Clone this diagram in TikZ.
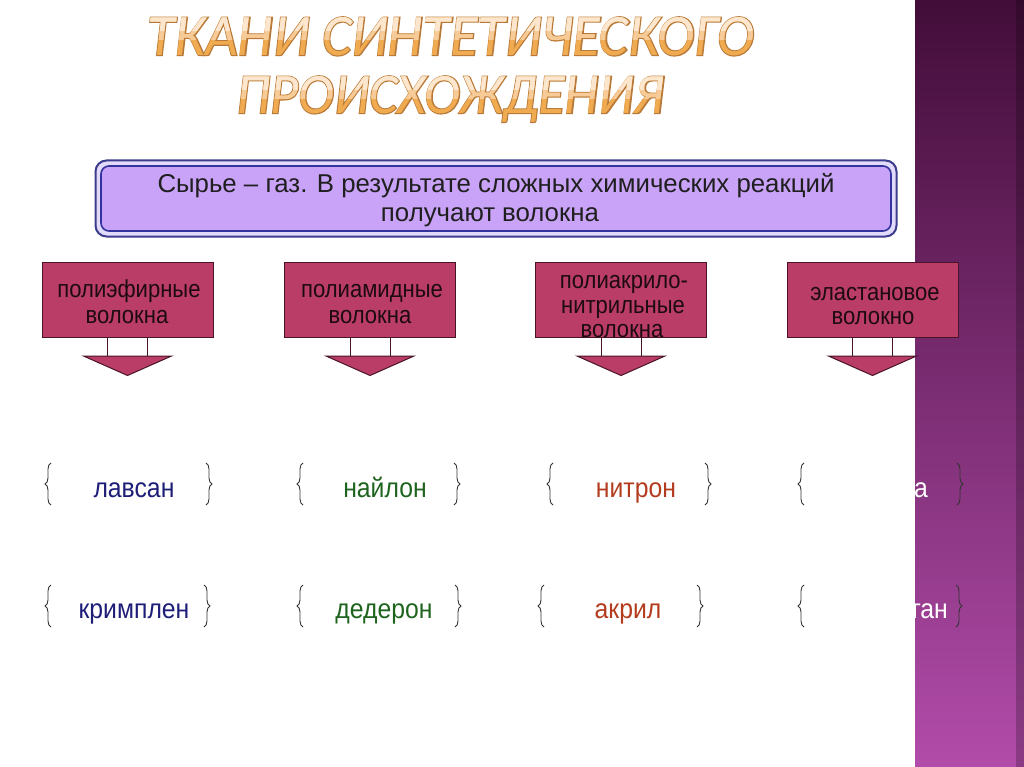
\documentclass[tikz,border=0pt]{standalone}
\usepackage{fontspec}
\setmainfont{Liberation Sans}
\newfontfamily\bodyfont[FakeStretch=0.9]{Liberation Sans}
\newfontfamily\titlefont{Carlito Italic}
\newfontfamily\titleoutlinefont{Carlito Italic}[FakeBold=3.5]
\usetikzlibrary{decorations.pathreplacing,calc}
\definecolor{calloutfill}{HTML}{B93D66}
\definecolor{calloutline}{HTML}{4A1428}
\definecolor{calloutink}{HTML}{1E0A12}
\definecolor{boxfill}{HTML}{C9A3F7}
\definecolor{boxline}{HTML}{3C3C8C}
\definecolor{boxgap}{HTML}{E2DAFA}
\definecolor{bandtop}{HTML}{420D39}
\definecolor{bandmid}{HTML}{8C2F7D}
\definecolor{bandbot}{HTML}{B24CAA}
\definecolor{navytext}{HTML}{1E1E78}
\definecolor{greentext}{HTML}{1E641E}
\definecolor{redtext}{HTML}{B43C1E}
\definecolor{titleorange}{HTML}{F0AA50}
\definecolor{titlepeach}{HTML}{F6CB98}
\definecolor{titlecream}{HTML}{FCE6CE}
\definecolor{titleline}{HTML}{B87A3A}
\definecolor{bracecol}{HTML}{333333}
\newcommand{\lineA}{ТКАНИ СИНТЕТИЧЕСКОГО}
\newcommand{\lineB}{ПРОИСХОЖДЕНИЯ}
\begin{document}
\begin{tikzpicture}[x=1pt,y=-1pt,
  callbox/.style={draw=calloutline, fill=calloutfill, line width=1pt, minimum width=171pt, minimum height=75pt, inner sep=0pt},
  stembox/.style={draw=calloutline, fill=white, line width=1pt},
  headshape/.style={draw=calloutline, fill=calloutfill, line width=1pt, line join=miter},
  calltext/.style={font=\bodyfont\fontsize{24.5}{27}\selectfont, text=calloutink, anchor=base, inner sep=0pt},
  rowtext/.style={font=\bodyfont\fontsize{27.5}{30}\selectfont, anchor=base, inner sep=0pt},
  srctext/.style={font=\fontsize{25.8}{29}\selectfont, text=black!88, anchor=base, inner sep=0pt},
  bracel/.style={decorate, decoration={brace, amplitude=6pt}, draw=bracecol, line width=0.9pt},
  titlenode/.style={anchor=north west, inner sep=0pt},
]
\useasboundingbox (0,0) rectangle (1024,767);
\fill[white] (0,0) rectangle (1024,767);
% right band
\shade[top color=bandtop, middle color=bandmid, bottom color=bandbot] (915,0) rectangle (1024,767);
\fill[black, opacity=0.22] (1016,0) rectangle (1024,767);

% title, line 1: outline, then fill in bands
\node[titlenode, text=titleline] (t1) at (147,17)
  {\resizebox{607pt}{38pt}{\titleoutlinefont\fontsize{57}{60}\selectfont\lineA}};
\node[titlenode, text=titleorange] (t1o) at (147,17)
  {\resizebox{607pt}{38pt}{\titlefont\fontsize{57}{60}\selectfont\lineA}};
\begin{scope}
  \clip (100,0) rectangle (800,40);
  \node[titlenode, text=titlepeach] (t1p) at (147,17)
    {\resizebox{607pt}{38pt}{\titlefont\fontsize{57}{60}\selectfont\lineA}};
\end{scope}
\begin{scope}
  \clip (100,0) rectangle (800,31);
  \node[titlenode, text=titlecream] (t1c) at (147,17)
    {\resizebox{607pt}{38pt}{\titlefont\fontsize{57}{60}\selectfont\lineA}};
\end{scope}
% title, line 2
\node[titlenode, text=titleline] (t2) at (236,76)
  {\resizebox{428pt}{37pt}{\titleoutlinefont\fontsize{57}{60}\selectfont\lineB}};
\node[titlenode, text=titleorange] (t2o) at (236,76)
  {\resizebox{428pt}{37pt}{\titlefont\fontsize{57}{60}\selectfont\lineB}};
\begin{scope}
  \clip (100,60) rectangle (800,99);
  \node[titlenode, text=titlepeach] (t2p) at (236,76)
    {\resizebox{428pt}{37pt}{\titlefont\fontsize{57}{60}\selectfont\lineB}};
\end{scope}
\begin{scope}
  \clip (100,60) rectangle (800,90);
  \node[titlenode, text=titlecream] (t2c) at (236,76)
    {\resizebox{428pt}{37pt}{\titlefont\fontsize{57}{60}\selectfont\lineB}};
\end{scope}

% source box
\node[draw=boxline, line width=2pt, fill=boxgap, rounded corners=11pt, minimum width=801pt, minimum height=76pt, inner sep=0pt] (src) at (496,198.5) {};
\node[draw=boxline!85!blue, line width=1.6pt, fill=boxfill, rounded corners=8pt, minimum width=790pt, minimum height=65pt, inner sep=0pt] (srcin) at (src.center) {};
\node[srctext] (s1) at (496,193) {Сырье – газ. В результате сложных химических реакций};
\node[srctext] (s2) at (490,222) {получают волокна};

% callouts
\foreach \n/\cx in {1/127.5, 2/370, 3/621, 4/872.5} {
  \node[callbox] (b\n) at (\cx,299.5) {};
  \draw[stembox] ($(b\n.south)+(-20,0)$) rectangle ($(b\n.south)+(20,18.5)$);
  \filldraw[headshape] ($(b\n.south)+(-44,18.5)$) -- ($(b\n.south)+(44,18.5)$) -- ($(b\n.south)+(0,38)$) -- cycle;
}
\node[calltext] (c1a) at (129,297) {полиэфирные};
\node[calltext] (c1b) at (127,323) {волокна};
\node[calltext] (c2a) at (372,297) {полиамидные};
\node[calltext] (c2b) at (370,323) {волокна};
\node[calltext] (c3a) at (624,288) {полиакрило-};
\node[calltext] (c3b) at (623,313) {нитрильные};
\node[calltext] (c3c) at (622,337) {волокна};
\node[calltext] (c4a) at (875,300) {эластановое};
\node[calltext] (c4b) at (873,324) {волокно};

% row 1
\node[rowtext, text=navytext] (r1a) at (134,497) {лавсан};
\node[rowtext, text=greentext] (r1b) at (385,497) {найлон};
\node[rowtext, text=redtext] (r1c) at (636,497) {нитрон};
\node[rowtext, text=white, anchor=base east] (r1d) at (928,497) {лайкра};
% row 2
\node[rowtext, text=navytext] (r2a) at (134,618) {кримплен};
\node[rowtext, text=greentext] (r2b) at (384,618) {дедерон};
\node[rowtext, text=redtext] (r2c) at (628,618) {акрил};
\node[rowtext, text=white, anchor=base east] (r2d) at (948,618) {эластан};

% braces row 1
\foreach \l/\r in {45/212, 297/460, 547/711, 798/963} {
  \draw[bracel] (\l+6,505) -- (\l+6,463);
  \draw[bracel] (\r-6,463) -- (\r-6,505);
}
% braces row 2
\foreach \l/\r in {45/210, 297/461, 538/703, 798/962} {
  \draw[bracel] (\l+6,627) -- (\l+6,585);
  \draw[bracel] (\r-6,585) -- (\r-6,627);
}
\end{tikzpicture}
\end{document}
